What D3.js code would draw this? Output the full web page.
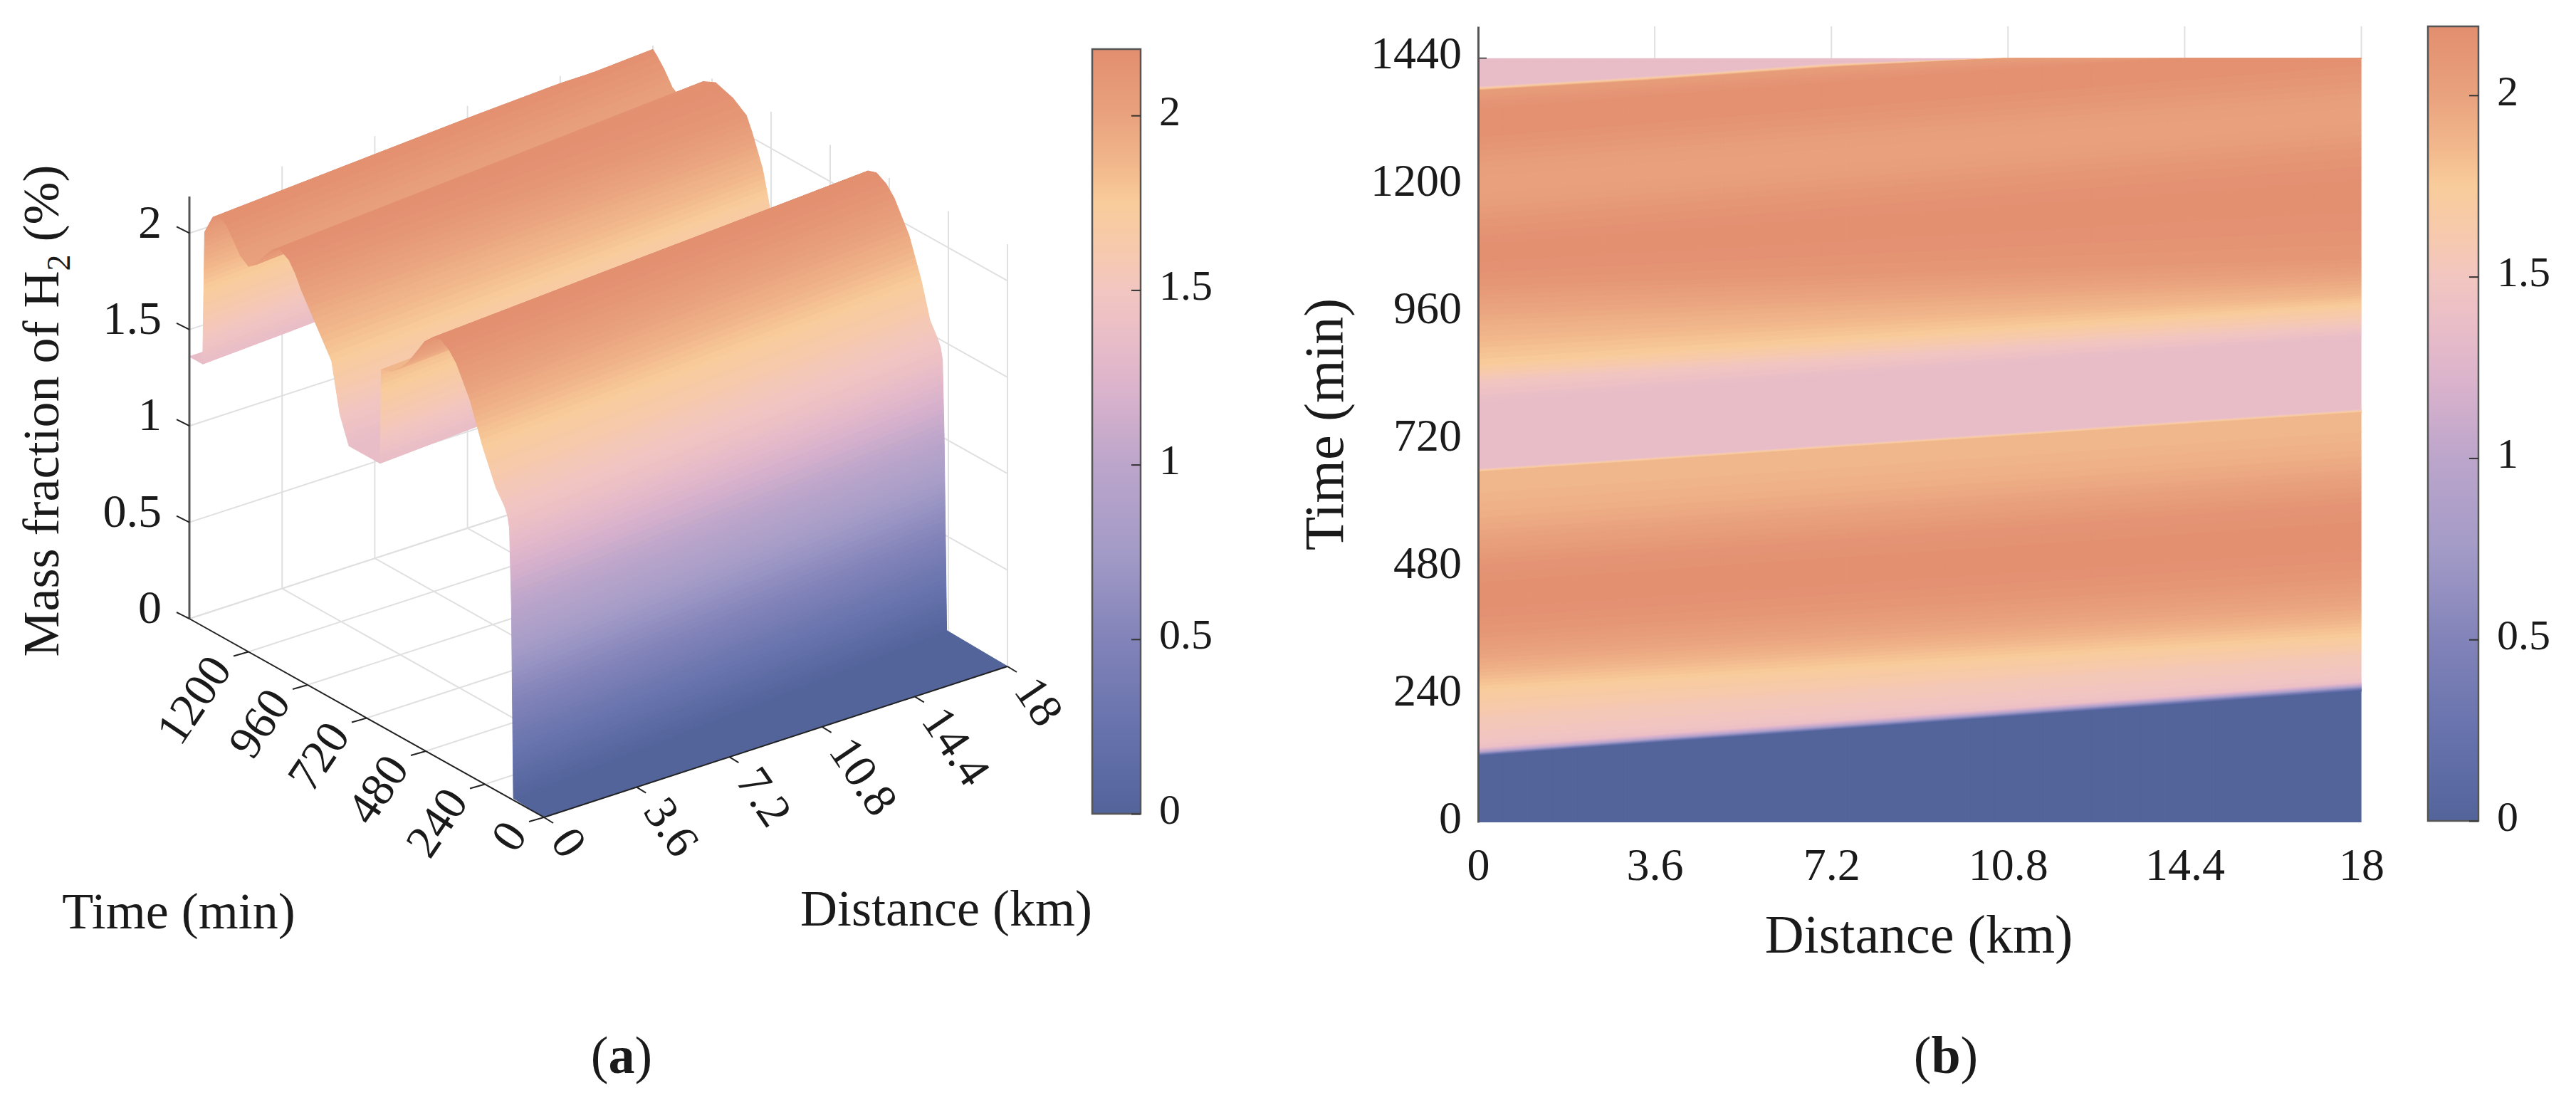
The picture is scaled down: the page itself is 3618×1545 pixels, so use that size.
<!DOCTYPE html>
<html>
<head>
<meta charset="utf-8">
<script src="https://cdn.jsdelivr.net/npm/d3@7"></script>
<style>
  html, body { margin: 0; background: #fff; }
  text { font-family: "Liberation Serif", serif; fill: #1a1a1a; }
</style>
</head>
<body>
<svg id="chart" width="3618" height="1545"></svg>
<script>
// values
var distanceKm = [0, 3.6, 7.2, 10.8, 14.4, 18];
var distanceTicks = [0, 3.6, 7.2, 10.8, 14.4, 18];
var timeTicks = [0, 240, 480, 720, 960, 1200, 1440];
var h2Ticks = [0, 0.5, 1, 1.5, 2];

// time (min) of each feature of the H2 profile, one column per distance
var knotTimes = [
  [0, 0, 0, 0, 0, 0],
  [124, 149, 173, 198, 222, 247],
  [128, 153, 177, 202, 227, 252],
  [132, 157, 182, 207, 232, 257],
  [140, 165, 190, 214, 239, 264],
  [148, 173, 198, 222, 247, 272],
  [160, 185, 210, 235, 260, 285],
  [195, 219, 243, 267, 291, 315],
  [250, 270, 290, 310, 330, 350],
  [300, 320, 340, 360, 380, 400],
  [355, 376, 397, 418, 439, 460],
  [385, 406, 428, 449, 471, 492],
  [420, 442, 465, 487, 510, 532],
  [452, 475, 498, 520, 543, 566],
  [485, 508, 532, 555, 579, 602],
  [515, 538, 562, 585, 609, 632],
  [550, 573, 596, 619, 642, 665],
  [585, 608, 631, 654, 677, 700],
  [620, 643, 666, 689, 712, 735],
  [660, 682, 705, 727, 750, 772],
  [666, 688, 711, 733, 756, 778],
  [792, 817, 841, 866, 890, 915],
  [829, 850, 871, 893, 914, 935],
  [845, 867, 889, 911, 933, 955],
  [862, 885, 907, 930, 952, 975],
  [915, 931, 947, 963, 979, 995],
  [985, 996, 1006, 1017, 1027, 1038],
  [1010, 1020, 1030, 1041, 1051, 1061],
  [1035, 1051, 1067, 1083, 1099, 1115],
  [1075, 1097, 1119, 1141, 1163, 1185],
  [1105, 1131, 1157, 1183, 1209, 1235],
  [1135, 1162, 1189, 1216, 1243, 1270],
  [1170, 1197, 1224, 1251, 1278, 1305],
  [1200, 1226, 1252, 1278, 1304, 1330],
  [1232, 1258, 1284, 1310, 1336, 1362],
  [1265, 1291, 1317, 1343, 1369, 1395],
  [1290, 1317, 1344, 1371, 1398, 1425],
  [1315, 1340, 1365, 1390, 1415, 1440],
  [1345, 1370, 1395, 1420, 1440, 1440],
  [1378, 1398, 1422, 1440, 1440, 1440],
  [1386, 1406, 1430, 1440, 1440, 1440],
  [1440, 1440, 1440, 1440, 1440, 1440]
];
// mass fraction (%) at the same features
var knotLevels = [0, 0.01, 0.5, 1, 1.4, 1.46, 1.5, 1.57, 1.75, 1.95, 2.1, 2.15, 2.18, 2.165, 2.12, 2.05,
  1.97, 1.91, 1.87, 1.85, 1.36, 1.36, 1.5, 1.62, 1.75, 1.87, 2.03, 2.1, 2.15, 2.18, 2.15, 2.1, 2.03, 2,
  2.03, 2.1, 2.15, 2.17, 2.15, 2.05, 1.36, 1.36];

var colorValues = [0, 0.25, 0.5, 0.75, 1, 1.2, 1.36, 1.5, 1.6, 1.75, 1.85, 2, 2.19];
var colorHex = ['#53649b', '#6873ad', '#8283b9', '#a39bc7', '#bca5cb', '#d9b2cc', '#e9bdc8',
  '#f2c6c0', '#f6c9b0', '#f9cc9b', '#f2b98d', '#e9a27e', '#e28e6f'];

var color = d3.scaleLinear().domain(colorValues).range(colorHex);

// one small quad per step of distance and per step of H2, far ones first
var rowTimes = knotTimes.map(function(times) {
  return d3.scaleLinear().domain(distanceKm).range(times);
});
var kmSteps = d3.range(0, 18.001, 0.5);
var cells = [];
for (var r = knotTimes.length - 2; r >= 0; r--) {
  var parts = Math.max(1, Math.ceil(Math.abs(knotLevels[r + 1] - knotLevels[r]) / 0.025));
  for (var p = parts - 1; p >= 0; p--) {
    for (var k = kmSteps.length - 2; k >= 0; k--) {
      var corners = [[kmSteps[k], p], [kmSteps[k + 1], p], [kmSteps[k + 1], p + 1], [kmSteps[k], p + 1]]
        .map(function(c) {
          var f = c[1] / parts;
          var a = rowTimes[r](c[0]), b = rowTimes[r + 1](c[0]);
          return {
            km: c[0],
            min: a + (b - a) * f,
            h2: knotLevels[r] + (knotLevels[r + 1] - knotLevels[r]) * f
          };
        });
      cells.push({ corners: corners, h2: d3.mean(corners, function(c) { return c.h2; }) });
    }
  }
}

var svg = d3.select('#chart');

function pathOf(project) {
  return function(d) {
    return 'M' + d.corners.map(project).join('L') + 'Z';
  };
}

function colorbar(left, top, bottom, width, id) {
  var gradient = svg.append('defs').append('linearGradient')
    .attr('id', id).attr('x1', 0).attr('x2', 0).attr('y1', 1).attr('y2', 0);
  gradient.selectAll('stop')
    .data(colorValues)
    .enter()
    .append('stop')
    .attr('offset', function(d) { return d / 2.19; })
    .attr('stop-color', function(d) { return color(d); });
  svg.append('rect')
    .attr('x', left).attr('y', top)
    .attr('width', width).attr('height', bottom - top)
    .attr('fill', 'url(#' + id + ')')
    .attr('stroke', '#555').attr('stroke-width', 2.5);
  var scale = d3.scaleLinear().domain([0, 2.19]).range([bottom, top]);
  var g = svg.append('g')
    .attr('transform', 'translate(' + (left + width) + ',0)')
    .call(d3.axisRight(scale).tickValues(h2Ticks).tickSize(-13).tickPadding(26)
      .tickFormat(function(d) { return d; }));
  g.select('.domain').remove();
  g.selectAll('line').attr('stroke', '#333').attr('stroke-width', 2);
  g.selectAll('text').attr('font-size', 60).attr('dy', '0.22em').attr('font-family', null);
}

// ---------- (a) surface ----------
var originX = 764, originY = 1148;
var xOfTime = d3.scaleLinear().domain([0, 1440]).range([0, -498]);
var yOfTime = d3.scaleLinear().domain([0, 1440]).range([0, -279]);
var xOfKm = d3.scaleLinear().domain([0, 18]).range([0, 651]);
var yOfKm = d3.scaleLinear().domain([0, 18]).range([0, -212]);
var yOfH2 = d3.scaleLinear().domain([0, 2.19]).range([0, -593]);

function project3d(min, km, h2) {
  return [originX + xOfTime(min) + xOfKm(km), originY + yOfTime(min) + yOfKm(km) + yOfH2(h2)];
}

var panelA = svg.append('g');
var gridA = panelA.append('g')
  .attr('fill', 'none').attr('stroke', '#e0e0e0').attr('stroke-width', 2);

function gridLine(from, to) {
  gridA.append('line')
    .attr('x1', from[0]).attr('y1', from[1])
    .attr('x2', to[0]).attr('y2', to[1]);
}
distanceTicks.forEach(function(km) {
  gridLine(project3d(0, km, 0), project3d(1440, km, 0));
  gridLine(project3d(1440, km, 0), project3d(1440, km, 2.19));
});
timeTicks.forEach(function(min) {
  gridLine(project3d(min, 0, 0), project3d(min, 18, 0));
  gridLine(project3d(min, 18, 0), project3d(min, 18, 2.19));
});
h2Ticks.forEach(function(v) {
  gridLine(project3d(1440, 0, v), project3d(1440, 18, v));
  gridLine(project3d(1440, 18, v), project3d(0, 18, v));
});

panelA.append('g')
  .selectAll('path')
  .data(cells)
  .enter()
  .append('path')
  .attr('d', pathOf(function(c) { return project3d(c.min, c.km, c.h2); }))
  .attr('fill', function(d) { return color(d.h2); })
  .attr('stroke', function(d) { return color(d.h2); })
  .attr('stroke-width', 1);

function axisLine(from, to, stroke, width) {
  panelA.append('line')
    .attr('x1', from[0]).attr('y1', from[1])
    .attr('x2', to[0]).attr('y2', to[1])
    .attr('stroke', stroke).attr('stroke-width', width);
}
axisLine(project3d(1440, 0, 0), project3d(0, 0, 0), '#222', 2);
axisLine(project3d(0, 0, 0), project3d(0, 18, 0), '#222', 2);
axisLine(project3d(1440, 0, 0), project3d(1440, 0, 2.19), '#555', 3);

// z ticks lean along time, time ticks along distance, distance ticks along time
h2Ticks.forEach(function(v) {
  var p = project3d(1440, 0, v);
  axisLine(p, [p[0] - 18, p[1] - 9], '#222', 2);
  panelA.append('text')
    .attr('x', 227).attr('y', p[1] - 17)
    .attr('dy', '0.35em')
    .attr('text-anchor', 'end')
    .attr('font-size', 66)
    .text(v);
});
timeTicks.slice(0, 6).forEach(function(min) {
  var p = project3d(min, 0, 0);
  axisLine(p, [p[0] - 21, p[1] + 6], '#222', 2);
  panelA.append('text')
    .attr('transform', 'translate(' + (p[0] - 41) + ',' + (p[1] + 12) + ') rotate(-56)')
    .attr('dy', '0.35em')
    .attr('text-anchor', 'end')
    .attr('font-size', 66)
    .text(min);
});
distanceTicks.forEach(function(km) {
  var p = project3d(0, km, 0);
  axisLine(p, [p[0] + 13, p[1] + 8], '#222', 2);
  panelA.append('text')
    .attr('transform', 'translate(' + (p[0] + 27) + ',' + (p[1] + 21) + ') rotate(56)')
    .attr('dy', '0.35em')
    .attr('font-size', 66)
    .text(km);
});

var h2Label = panelA.append('text')
  .attr('transform', 'translate(82,577) rotate(-90)')
  .attr('text-anchor', 'middle')
  .attr('font-size', 72);
h2Label.append('tspan').text('Mass fraction of H');
h2Label.append('tspan').attr('font-size', 46).attr('dy', 16).text('2');
h2Label.append('tspan').attr('dy', -16).text(' (%)');

panelA.append('text').attr('x', 251).attr('y', 1304)
  .attr('text-anchor', 'middle').attr('font-size', 72).text('Time (min)');
panelA.append('text').attr('x', 1329).attr('y', 1300)
  .attr('text-anchor', 'middle').attr('font-size', 72).text('Distance (km)');
panelA.append('text').attr('x', 873).attr('y', 1507)
  .attr('text-anchor', 'middle').attr('font-size', 74)
  .html('(<tspan font-weight="bold">a</tspan>)');

colorbar(1534, 69, 1143, 68, 'barA');

// ---------- (b) map ----------
var x = d3.scaleLinear().domain([0, 18]).range([2076, 3316.5]);
var y = d3.scaleLinear().domain([0, 1500]).range([1155, 37]);

var panelB = svg.append('g');
panelB.append('g')
  .attr('stroke', '#e0e0e0').attr('stroke-width', 2)
  .selectAll('line')
  .data(distanceTicks.slice(1))
  .enter()
  .append('line')
  .attr('x1', function(d) { return x(d); })
  .attr('x2', function(d) { return x(d); })
  .attr('y1', y(1440))
  .attr('y2', y(1500));

svg.append('defs').append('clipPath').attr('id', 'mapClip')
  .append('rect')
  .attr('x', x(0)).attr('y', y(1440))
  .attr('width', x(18) - x(0)).attr('height', y(0) - y(1440));

panelB.append('g')
  .attr('clip-path', 'url(#mapClip)')
  .selectAll('path')
  .data(cells)
  .enter()
  .append('path')
  .attr('d', pathOf(function(c) { return [x(c.km), y(c.min)]; }))
  .attr('fill', function(d) { return color(d.h2); })
  .attr('stroke', function(d) { return color(d.h2); })
  .attr('stroke-width', 1);

var leftAxis = panelB.append('g')
  .attr('transform', 'translate(' + x(0) + ',0)')
  .call(d3.axisLeft(y).tickValues(timeTicks).tickSize(0).tickPadding(23)
    .tickFormat(function(d) { return d; }));
leftAxis.select('.domain').attr('stroke', '#555').attr('stroke-width', 3);
leftAxis.selectAll('text').attr('font-size', 64).attr('dy', '0.22em').attr('font-family', null);
panelB.append('line')
  .attr('x1', x(0)).attr('x2', x(0) + 12)
  .attr('y1', y(1440)).attr('y2', y(1440))
  .attr('stroke', '#555').attr('stroke-width', 2);

var bottomAxis = panelB.append('g')
  .attr('transform', 'translate(0,' + y(0) + ')')
  .call(d3.axisBottom(x).tickValues(distanceTicks).tickSize(0).tickPadding(36)
    .tickFormat(function(d) { return d; }));
bottomAxis.select('.domain').remove();
bottomAxis.selectAll('text').attr('font-size', 64).attr('font-family', null);

panelB.append('text')
  .attr('transform', 'translate(1886,596) rotate(-90)')
  .attr('text-anchor', 'middle').attr('font-size', 78).text('Time (min)');
panelB.append('text').attr('x', 2695).attr('y', 1338)
  .attr('text-anchor', 'middle').attr('font-size', 76).text('Distance (km)');
panelB.append('text').attr('x', 2733).attr('y', 1507)
  .attr('text-anchor', 'middle').attr('font-size', 74)
  .html('(<tspan font-weight="bold">b</tspan>)');

colorbar(3410, 37, 1153, 71, 'barB');
</script>
</body>
</html>
